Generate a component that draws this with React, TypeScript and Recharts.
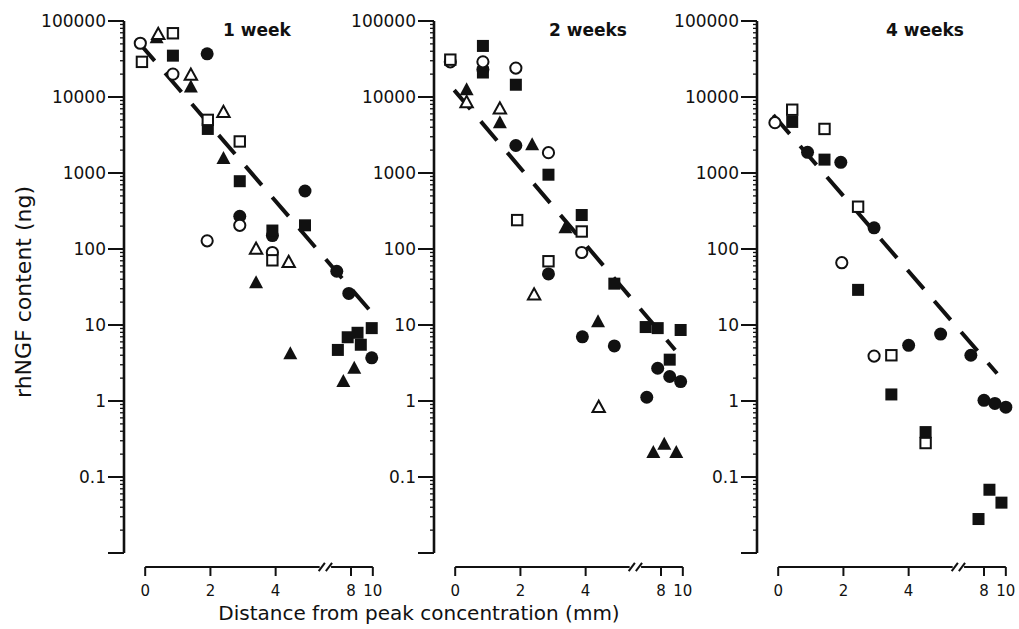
import React from 'react';
import { ScatterChart, Scatter, XAxis, YAxis, ReferenceLine, Label } from 'recharts';

// ---------- data (distance in mm, rhNGF content in ng) ----------
type P = [number, number];

const panelTitles = ['1 week', '2 weeks', '4 weeks'];

const w1FilledCircle: P[] = [[1.9, 37000], [2.9, 270], [3.9, 150], [4.9, 580], [6.7, 51], [7.8, 26], [9.9, 3.7]];
const w1OpenCircle: P[] = [[-0.15, 51000], [0.85, 20000], [1.9, 128], [2.9, 205], [3.9, 90]];
const w1FilledSquare: P[] = [[0.85, 35000], [1.92, 3800], [2.9, 780], [3.9, 175], [4.9, 205], [6.8, 4.7], [7.7, 6.9], [8.6, 7.9], [8.9, 5.5], [9.9, 9.1]];
const w1OpenSquare: P[] = [[-0.1, 29000], [0.85, 69000], [1.92, 5000], [2.9, 2600], [3.9, 71]];
const w1FilledTriangle: P[] = [[0.35, 60000], [1.4, 13500], [2.4, 1550], [3.4, 36], [4.45, 4.2], [7.3, 1.8], [8.3, 2.7]];
const w1OpenTriangle: P[] = [[0.4, 67000], [1.4, 19500], [2.4, 6300], [3.4, 100], [4.4, 67]];
const w1Fit: P[] = [[-0.21, 53000], [10, 14]];

const w2FilledCircle: P[] = [[0.85, 23000], [1.86, 2300], [2.86, 47], [3.9, 7], [4.88, 5.3], [6.7, 1.12], [7.7, 2.7], [8.8, 2.1], [9.8, 1.8]];
const w2OpenCircle: P[] = [[-0.15, 29000], [0.85, 29000], [1.86, 24000], [2.86, 1850], [3.88, 90]];
const w2FilledSquare: P[] = [[0.85, 47000], [0.85, 21000], [1.86, 14500], [2.86, 950], [3.88, 280], [4.88, 35], [6.6, 9.4], [7.7, 9.1], [8.8, 3.5], [9.8, 8.6]];
const w2OpenSquare: P[] = [[-0.15, 31000], [1.9, 240], [2.86, 69], [3.88, 170]];
const w2FilledTriangle: P[] = [[0.35, 12500], [1.37, 4600], [2.36, 2350], [3.38, 190], [4.38, 11], [7.3, 0.21], [8.3, 0.27], [9.4, 0.21]];
const w2OpenTriangle: P[] = [[0.35, 8500], [1.37, 7000], [2.42, 25], [4.4, 0.83]];
const w2Fit: P[] = [[-0.03, 12300], [9.3, 4.7]];

const w4FilledCircle: P[] = [[0.9, 1870], [1.92, 1380], [2.94, 190], [4.0, 5.4], [4.98, 7.6], [6.8, 4.0], [8.0, 1.02], [9.0, 0.93], [10.0, 0.83]];
const w4OpenCircle: P[] = [[-0.1, 4600], [1.95, 66], [2.94, 3.9]];
const w4FilledSquare: P[] = [[0.43, 4700], [1.42, 1500], [2.45, 29], [3.47, 1.22], [4.52, 0.39], [7.5, 0.028], [8.5, 0.068], [9.6, 0.046]];
const w4OpenSquare: P[] = [[0.43, 6800], [1.42, 3800], [2.45, 360], [3.47, 4.0], [4.52, 0.28]];
const w4FilledTriangle: P[] = [];
const w4OpenTriangle: P[] = [];
const w4Fit: P[] = [[-0.15, 5800], [9.2, 2.3]];

const xTickMm = [0, 2, 4, 8, 10];
const xTickLabels = ['0', '2', '4', '8', '10'];
const yMajorTicks = [0.01, 0.1, 1, 10, 100, 1000, 10000, 100000];
const yMajorLabels = ['', '0.1', '1', '10', '100', '1000', '10000', '100000'];

// ---------- axis geometry (broken distance axis) ----------
const INK = '#111';
const FONT = '"DejaVu Sans", sans-serif';
const T8 = 6.31;
const RIGHT_K = 0.335;
const toAxis = (mm: number) => (mm <= 5.5 ? mm : T8 + (mm - 8) * RIGHT_K);
const XMIN = -0.65;
const XMAX = 7.2;
const YMIN = Math.pow(10, -2.184);
const Y_LO = Math.pow(10, -2.237);
const Y_HI = Math.pow(10, -2.131);
const BREAK_L = 5.35;
const BREAK_R = 5.7;

const yTicks: number[] = [];
for (let e = -2; e <= 5; e++) {
  yTicks.push(Number(Math.pow(10, e).toPrecision(3)));
  if (e < 5) for (let m = 2; m <= 9; m++) yTicks.push(Number((m * Math.pow(10, e)).toPrecision(3)));
}
const xTickPos = xTickMm.map(toAxis);

const toPts = (arr: P[]) => arr.map(([mm, v]) => ({ x: toAxis(mm), y: v }));

// ---------- marker shapes ----------
const FilledCircle = (p: any) => <circle cx={p.cx} cy={p.cy} r={6.5} fill={INK} />;
const OpenCircle = (p: any) => <circle cx={p.cx} cy={p.cy} r={5.6} fill="#fff" stroke={INK} strokeWidth={2} />;
const FilledSquare = (p: any) => <rect x={p.cx - 6} y={p.cy - 6} width={12} height={12} fill={INK} />;
const OpenSquare = (p: any) => <rect x={p.cx - 5.2} y={p.cy - 5.2} width={10.4} height={10.4} fill="#fff" stroke={INK} strokeWidth={2} />;
const FilledTriangle = (p: any) => (
  <polygon points={`${p.cx},${p.cy - 7.5} ${p.cx - 7},${p.cy + 5.5} ${p.cx + 7},${p.cy + 5.5}`} fill={INK} />
);
const OpenTriangle = (p: any) => (
  <polygon points={`${p.cx},${p.cy - 6.5} ${p.cx - 6.2},${p.cy + 4.8} ${p.cx + 6.2},${p.cy + 4.8}`} fill="#fff" stroke={INK} strokeWidth={2} strokeLinejoin="miter" />
);
const NoShape = () => <g />;

// ---------- ticks ----------
const YTick = (p: any) => {
  const { x, y, payload } = p;
  const idx = yMajorTicks.indexOf(payload.value);
  const major = idx >= 0;
  return (
    <g>
      <line x1={x - (major ? 16 : 4)} x2={x} y1={y} y2={y} stroke={INK} strokeWidth={major ? 2 : 1.3} />
      {major && yMajorLabels[idx] !== '' ? (
        <text x={x - 18} y={y + 6} textAnchor="end" fontSize={17} fontFamily={FONT} fill={INK}>
          {yMajorLabels[idx]}
        </text>
      ) : null}
    </g>
  );
};

const XTick = (p: any) => {
  const { x, y, payload } = p;
  const idx = xTickPos.indexOf(payload.value);
  return (
    <g>
      <line x1={x} x2={x} y1={y} y2={y + 9} stroke={INK} strokeWidth={2} />
      <text x={x} y={y + 29} textAnchor="middle" fontSize={15} fontFamily={FONT} fill={INK}>
        {idx >= 0 ? xTickLabels[idx] : ''}
      </text>
    </g>
  );
};

type PanelProps = {
  left: number;
  yAxisWidth: number;
  title: string;
  titleX: number;
  series: { data: P[]; shape: any }[];
  fit: P[];
  yLabel?: boolean;
};

const PLOT_W = 256;
const RIGHT_PAD = 14;
const H = 629;

const Panel = ({ left, yAxisWidth, title, titleX, series, fit, yLabel }: PanelProps) => (
  <div style={{ position: 'absolute', left, top: 0 }}>
    <ScatterChart width={yAxisWidth + PLOT_W + RIGHT_PAD} height={H} margin={{ top: 21, right: RIGHT_PAD, bottom: 0, left: 0 }}>
      <XAxis
        type="number"
        dataKey="x"
        domain={[XMIN, XMAX]}
        allowDataOverflow
        ticks={xTickPos}
        interval={0}
        axisLine={false}
        tickLine={false}
        tickSize={0}
        tickMargin={0}
        height={62}
        tick={<XTick />}
      />
      <YAxis
        type="number"
        dataKey="y"
        scale="log"
        domain={[YMIN, 100000]}
        allowDataOverflow
        ticks={yTicks}
        interval={0}
        axisLine={false}
        tickLine={false}
        tickSize={0}
        tickMargin={0}
        width={yAxisWidth}
        tick={<YTick />}
      >
        {yLabel ? (
          <Label
            content={() => (
              <text x={31} y={292} transform="rotate(-90 31 292)" textAnchor="middle" fontSize={22} fontFamily={FONT} fill={INK}>
                rhNGF content (ng)
              </text>
            )}
          />
        ) : null}
      </YAxis>
      <ReferenceLine segment={[{ x: XMIN, y: 0.01 }, { x: XMIN, y: 100000 }]} stroke={INK} strokeWidth={2.6} ifOverflow="visible" />
      <ReferenceLine segment={[{ x: 0, y: YMIN }, { x: BREAK_L, y: YMIN }]} stroke={INK} strokeWidth={2.2} ifOverflow="visible" />
      <ReferenceLine segment={[{ x: BREAK_L - 0.03, y: Y_LO }, { x: BREAK_L + 0.16, y: Y_HI }]} stroke={INK} strokeWidth={2} ifOverflow="visible" />
      <ReferenceLine segment={[{ x: BREAK_R - 0.16, y: Y_LO }, { x: BREAK_R + 0.03, y: Y_HI }]} stroke={INK} strokeWidth={2} ifOverflow="visible" />
      <ReferenceLine segment={[{ x: BREAK_R, y: YMIN }, { x: toAxis(10), y: YMIN }]} stroke={INK} strokeWidth={2.2} ifOverflow="visible" />
      <Scatter
        data={toPts(fit)}
        line={{ stroke: INK, strokeWidth: 4, strokeDasharray: '25 16' }}
        shape={NoShape}
        isAnimationActive={false}
      />
      {series.map((s, i) => (
        <Scatter key={i} data={toPts(s.data)} shape={s.shape} isAnimationActive={false} />
      ))}
      <text x={titleX} y={36} textAnchor="middle" fontSize={17} fontWeight="bold" fontFamily={FONT} fill={INK}>
        {title}
      </text>
    </ScatterChart>
  </div>
);

export default function App() {
  return (
    <div style={{ position: 'absolute', left: 0, top: 0, width: 1019, height: 629, background: '#fff', overflow: 'hidden' }}>
      <Panel
        left={0}
        yAxisWidth={124}
        title={panelTitles[0]}
        titleX={257}
        yLabel
        fit={w1Fit}
        series={[
          { data: w1FilledCircle, shape: FilledCircle },
          { data: w1FilledSquare, shape: FilledSquare },
          { data: w1FilledTriangle, shape: FilledTriangle },
          { data: w1OpenCircle, shape: OpenCircle },
          { data: w1OpenSquare, shape: OpenSquare },
          { data: w1OpenTriangle, shape: OpenTriangle },
        ]}
      />
      <Panel
        left={344}
        yAxisWidth={90}
        title={panelTitles[1]}
        titleX={244}
        fit={w2Fit}
        series={[
          { data: w2FilledCircle, shape: FilledCircle },
          { data: w2FilledSquare, shape: FilledSquare },
          { data: w2FilledTriangle, shape: FilledTriangle },
          { data: w2OpenCircle, shape: OpenCircle },
          { data: w2OpenSquare, shape: OpenSquare },
          { data: w2OpenTriangle, shape: OpenTriangle },
        ]}
      />
      <Panel
        left={667}
        yAxisWidth={90}
        title={panelTitles[2]}
        titleX={258}
        fit={w4Fit}
        series={[
          { data: w4FilledCircle, shape: FilledCircle },
          { data: w4FilledSquare, shape: FilledSquare },
          { data: w4FilledTriangle, shape: FilledTriangle },
          { data: w4OpenCircle, shape: OpenCircle },
          { data: w4OpenSquare, shape: OpenSquare },
          { data: w4OpenTriangle, shape: OpenTriangle },
        ]}
      />
      <div
        style={{
          position: 'absolute',
          left: 0,
          top: 603,
          width: 838,
          textAlign: 'center',
          fontFamily: FONT,
          fontSize: 20,
          lineHeight: '20px',
          color: INK,
          whiteSpace: 'nowrap',
        }}
      >
        Distance from peak concentration (mm)
      </div>
    </div>
  );
}
